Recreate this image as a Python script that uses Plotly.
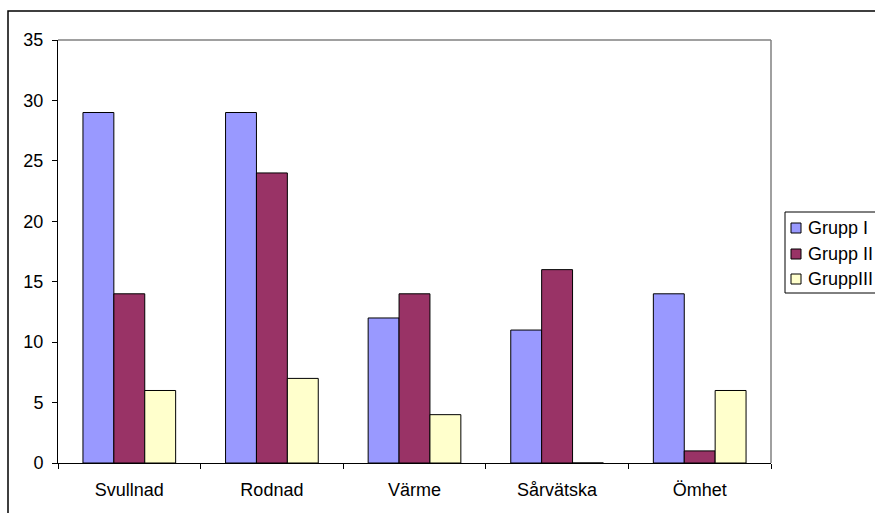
import plotly.graph_objects as go

categories = ["Svullnad", "Rodnad", "Värme", "Sårvätska", "Ömhet"]
grupp_1 = [29, 29, 12, 11, 14]
grupp_2 = [14, 24, 14, 16, 1]
grupp_3 = [6, 7, 4, 0, 6]

series = [
    ("Grupp I", grupp_1, "#9999FF"),
    ("Grupp II", grupp_2, "#993366"),
    ("GruppIII", grupp_3, "#FFFFCC"),
]

W, H = 875, 513
L, R, T, B = 58, 771, 40, 463  # plot area in pixels


def px(x):
    return (x - L) / (R - L)


def py(y):
    return (B - y) / (B - T)


FAMILY = "Liberation Sans, Arial, sans-serif"
font = dict(family=FAMILY, size=18, color="#000000")

fig = go.Figure()
for name, vals, color in series:
    fig.add_trace(go.Bar(
        name=name, x=categories, y=vals,
        marker=dict(color=color, line=dict(color="#000000", width=1)),
        showlegend=False,
    ))

shapes = [
    # outer chart frame
    dict(type="rect", xref="paper", yref="paper",
         x0=px(8), x1=px(890), y0=py(530), y1=py(11),
         line=dict(color="#000000", width=1.5), layer="below"),
    # plot area top and right edges
    dict(type="line", xref="paper", yref="paper",
         x0=0, x1=1, y0=1, y1=1, line=dict(color="#808080", width=1.5)),
    dict(type="line", xref="paper", yref="paper",
         x0=1, x1=1, y0=0, y1=1, line=dict(color="#808080", width=1.5)),
    # legend box
    dict(type="rect", xref="paper", yref="paper",
         x0=px(785), x1=px(900), y0=py(293), y1=py(212),
         line=dict(color="#000000", width=1), fillcolor="white"),
]

annotations = []
legend_rows = [228, 254, 279]
for (name, _, color), yc in zip(series, legend_rows):
    shapes.append(dict(
        type="rect", xref="paper", yref="paper",
        x0=px(791), x1=px(801), y0=py(yc + 5), y1=py(yc - 5),
        line=dict(color="#000000", width=1), fillcolor=color,
    ))
    annotations.append(dict(
        xref="paper", yref="paper", x=px(806), y=py(yc),
        xanchor="left", yanchor="middle", showarrow=False,
        text=name, font=font,
    ))

fig.update_layout(
    width=W, height=H,
    margin=dict(l=L, r=W - R, t=T, b=H - B, autoexpand=False),
    paper_bgcolor="white", plot_bgcolor="white",
    barmode="group", bargap=0.35, bargroupgap=0,
    font=font,
    showlegend=False,
    xaxis=dict(
        showline=True, linecolor="#000000", linewidth=1,
        ticks="outside", ticklen=5, tickcolor="#000000",
        tickson="boundaries", showgrid=False,
        ticklabelstandoff=10,
    ),
    yaxis=dict(
        range=[0, 35], dtick=5, tick0=0,
        showline=True, linecolor="#000000", linewidth=1,
        ticks="outside", ticklen=5, tickcolor="#000000",
        showgrid=False, zeroline=False,
        ticklabelstandoff=5,
    ),
    shapes=shapes,
    annotations=annotations,
)

fig.write_html("out.html")
